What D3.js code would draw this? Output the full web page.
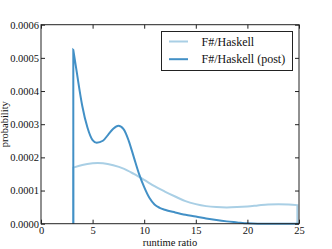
<!DOCTYPE html>
<html><head><meta charset="utf-8">
<script src="https://cdn.jsdelivr.net/npm/d3@7"></script>
<style>
body{margin:0;background:#fff}svg{display:block}
svg text{font-family:"Liberation Serif",serif;}
</style>
</head><body>
<svg id="c" width="332" height="249"></svg>
<script>
const xTicks = [0,5,10,15,20,25];
const yTicks = [0,0.0001,0.0002,0.0003,0.0004,0.0005,0.0006];
const seriesNames = ["F#/Haskell","F#/Haskell (post)"];
const lightX = [3.13,4,5,5.5,6,7,8,9,10,11,12,13,14,15,16,17,18,19,20,21,22,23,24,24.84];
const lightY = [0.000169,0.000177,0.000182,0.000183,0.000182,0.000176,0.000166,0.00015,0.000132,0.000113,0.000097,0.000082,0.000068,0.000059,0.000053,0.00005,0.000049,0.00005,0.000052,0.000055,0.000058,0.000059,0.000058,0.000056];
const darkX = [3.13,3.5,3.75,4,4.5,5,5.4,6,6.5,7,7.5,8,8.5,9,9.5,10,10.5,11,11.5,12,13,14,15,16,17,18,19,20,21,25];
const darkY = [0.000524,0.00045,0.0004,0.000355,0.00029,0.000252,0.000244,0.00025,0.000268,0.000286,0.000295,0.000285,0.00025,0.0002,0.00015,0.00011,0.000078,0.000058,0.000048,0.000042,0.000034,0.000027,0.000022,0.000016,0.000011,0.000007,0.000004,0.000001,0,0];
const colors = ["#a9cfe5","#4290c6"];

const svg = d3.select("#c");
const L=41, R=299, T=24.7, B=223.7;
const x = d3.scaleLinear().domain([0,25]).range([L,R]);
const y = d3.scaleLinear().domain([0,0.0006]).range([B,T]);
const FONT = "Liberation Serif";

function curvePath(xs, ys, dropStart, dropEnd){
  const pts = xs.map((v,i)=>[x(v), y(ys[i])]);
  const line = d3.line().curve(d3.curveMonotoneX);
  let d = "";
  if (dropStart) d += `M${pts[0][0]},${y(0)}L${pts[0][0]},${pts[0][1]}`;
  let c = line(pts);
  if (dropStart) c = "L" + c.slice(1);
  d += c;
  if (dropEnd) d += `L${pts[pts.length-1][0]},${y(0)}`;
  return d;
}

svg.append("path").attr("d", curvePath(lightX, lightY, true, true))
  .attr("fill","none").attr("stroke",colors[0]).attr("stroke-width",2);
svg.append("path").attr("d", curvePath(darkX, darkY, true, false))
  .attr("fill","none").attr("stroke",colors[1]).attr("stroke-width",2);

svg.append("rect").attr("x",L).attr("y",T).attr("width",R-L).attr("height",B-T)
  .attr("fill","none").attr("stroke","#222").attr("stroke-width",1);

const fmt = d3.format(".4f");
function style(g, fs){
  g.attr("font-family",FONT);
  g.select(".domain").remove();
  g.selectAll("line").attr("stroke","#222");
  g.selectAll("text").attr("font-family",FONT).attr("font-size",fs).attr("fill","#111");
}
svg.append("g").attr("transform",`translate(0,${B})`)
  .call(d3.axisBottom(x).tickValues(xTicks).tickSize(-4).tickPadding(3).tickFormat(d3.format("d")))
  .call(g=>style(g,10.5));
svg.append("g").attr("transform",`translate(0,${T})`)
  .call(d3.axisTop(x).tickValues(xTicks).tickSize(-4).tickFormat(""))
  .call(g=>style(g,10.5));
svg.append("g").attr("transform",`translate(${L},0)`)
  .call(d3.axisLeft(y).tickValues(yTicks).tickSize(-4).tickPadding(2).tickFormat(fmt))
  .call(g=>style(g,10.5));
svg.append("g").attr("transform",`translate(${R},0)`)
  .call(d3.axisRight(y).tickValues(yTicks).tickSize(-4).tickFormat(""))
  .call(g=>style(g,10.5));

svg.append("text").attr("x",(L+R)/2).attr("y",246).attr("text-anchor","middle")
  .attr("font-family",FONT).attr("font-size",10.5).attr("fill","#111").text("runtime ratio");
svg.append("text").attr("transform",`translate(7.5,${(T+B)/2}) rotate(-90)`).attr("text-anchor","middle")
  .attr("font-family",FONT).attr("font-size",10.5).attr("fill","#111").text("probability");

const lg = svg.append("g");
lg.append("rect").attr("x",161.5).attr("y",31.5).attr("width",131).attr("height",39)
  .attr("fill","#fff").attr("stroke","#222").attr("stroke-width",1);
seriesNames.forEach((n,i)=>{
  const yy = 41.5 + i*17.7;
  lg.append("line").attr("x1",169).attr("x2",188).attr("y1",yy).attr("y2",yy)
    .attr("stroke",colors[i]).attr("stroke-width",2);
  lg.append("text").attr("x",201.5).attr("y",yy+4).attr("font-family",FONT)
    .attr("font-size",12).attr("fill","#111").text(n);
});
</script>
</body></html>
